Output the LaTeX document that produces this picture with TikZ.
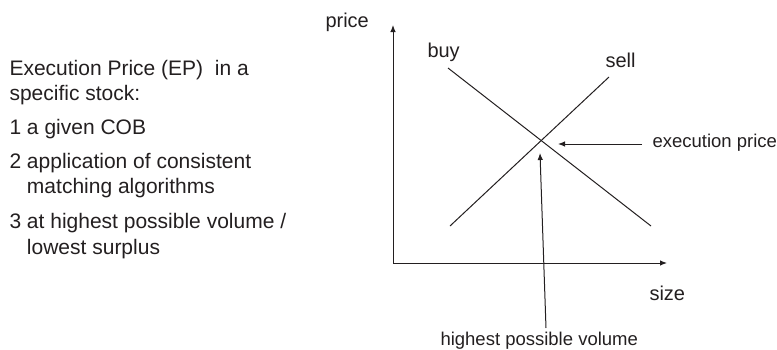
\documentclass[tikz,border=0pt]{standalone}
\usepackage{fontspec}
\setmainfont{Liberation Sans}
\usepackage{xcolor}
\usetikzlibrary{arrows.meta}
\definecolor{inkgray}{RGB}{35,31,32}

\tikzset{
  notetext/.style={font=\fontsize{21}{25}\selectfont, inner sep=0pt, anchor=base west},
  axistext/.style={font=\fontsize{20}{24}\selectfont, inner sep=0pt, anchor=base west},
  marktext/.style={font=\fontsize{18.5}{22}\selectfont, inner sep=0pt, anchor=base west},
  pointer/.style={-{Latex[length=7pt,width=5.5pt]}}
}

\begin{document}
\begin{tikzpicture}[x=1pt,y=-1pt,color=inkgray,line width=1pt]
\useasboundingbox (0,0) rectangle (777,349);
% left hand notes
\node[notetext] (note1) at (9,75) {Execution Price (EP)\ \ in a};
\node[notetext] (note2) at (9,100) {specific stock:};
\node[notetext] (item1) at (9,134) {1 a given COB};
\node[notetext] (item2) at (9,168) {2 application of consistent};
\node[notetext] (item2b) at (26.5,193) {matching algorithms};
\node[notetext] (item3) at (9,228) {3 at highest possible volume /};
\node[notetext] (item3b) at (26.5,254) {lowest surplus};
% axes
\coordinate (origin) at (393,263);
\coordinate (ytip) at (393,25);
\coordinate (xtip) at (667,263);
\draw[pointer] (origin) -- (ytip);
\draw[pointer] (origin) -- (xtip);
\node[axistext] (pricelabel) at (325,27) {price};
\node[axistext] (sizelabel) at (649,300) {size};
% order curves
\coordinate (buytop) at (448,68);
\coordinate (buyend) at (651,226);
\coordinate (sellend) at (450,226);
\coordinate (selltop) at (609,77);
\draw (buytop) -- (buyend);
\draw (sellend) -- (selltop);
\node[axistext] (buylabel) at (427,57) {buy};
\node[axistext] (selllabel) at (605,67) {sell};
% pointers to the crossing
\node[marktext] (eplabel) at (652,147) {execution price};
\node[marktext] (hpvlabel) at (440,345) {highest possible volume};
\coordinate (eptail) at (642,144);
\coordinate (ephead) at (558,144);
\coordinate (hpvtail) at (546,328);
\coordinate (hpvhead) at (540,153);
\draw[pointer] (eptail) -- (ephead);
\draw[pointer] (hpvtail) -- (hpvhead);
\end{tikzpicture}
\end{document}
